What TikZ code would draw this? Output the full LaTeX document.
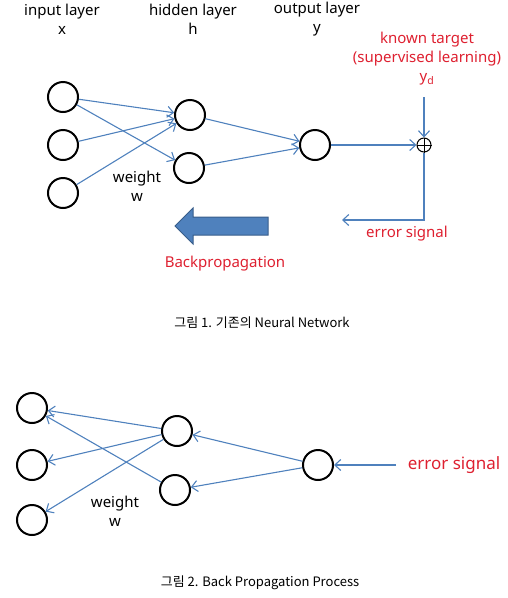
\documentclass[tikz,border=0pt]{standalone}
\usepackage{fontspec}
\setmainfont{Noto Sans}
\newfontfamily\krfont{Noto Sans CJK KR}
\usetikzlibrary{arrows.meta,positioning,shapes.arrows}
\definecolor{wireblue}{RGB}{79,129,189}
\definecolor{darkblue}{RGB}{56,93,138}
\definecolor{signalred}{RGB}{222,32,48}

\begin{document}
\begin{tikzpicture}[
  x=1pt,y=-1pt,
  font=\fontsize{15}{19}\selectfont,
  neuron/.style={circle,draw,line width=2pt,minimum size=30pt,inner sep=0},
  wire/.style={-{Straight Barb[length=6pt,width=11pt]},draw=wireblue,line width=1.1pt},
  redtext/.style={text=signalred,align=center},
  caption/.style={font=\krfont\fontsize{13}{15}\selectfont}
]
\useasboundingbox (0,0) rectangle (507,598);

% Figure 1: forward network
\node[align=center] (inlab) at (62,19) {input layer\\x};
\node[align=center] (hidlab) at (193,19) {hidden layer\\h};
\node[align=center] (outlab) at (317,19) {output layer\\y};
\node[redtext] (target) at (427,59) {known target\\(supervised learning)\\y\textsubscript{d}};

\node[neuron] (in1) at (63,97) {};
\node[neuron] (in2) at (63,145) {};
\node[neuron] (in3) at (63,193) {};
\node[neuron] (hid1) at (190,115) {};
\node[neuron] (hid2) at (189,168) {};
\node[neuron] (out) at (315,145) {};
\node[circle,draw,line width=1pt,minimum size=14pt,inner sep=0] (sum) at (424,145) {};
\draw[line width=1pt] (sum.north) -- (sum.south) (sum.west) -- (sum.east);

\node[align=center] (wlab) at (137,186) {weight\\w};

\draw[wire] (in1) -- (hid1);
\draw[wire] (in1) -- (hid2);
\draw[wire] (in2) -- (hid1);
\draw[wire] (in3) -- (hid1);
\draw[wire] (hid1) -- (out);
\draw[wire] (hid2) -- (out);
\draw[wire] (out) -- (sum);

\coordinate (ydtop) at (424,97);
\coordinate (errend) at (342,220);
\draw[wire] (ydtop) -- (sum);
\draw[wire] (sum) -- (sum |- errend) -- (errend);
\node[redtext] (errlab) at (407,234) {error signal};

\node[single arrow,shape border rotate=180,fill=wireblue,draw=darkblue,line width=1pt,
  minimum height=93pt,inner xsep=0pt,inner ysep=8.5pt,single arrow head extend=9pt] (bp) at (226,226) {};
\node[redtext] (bplab) at (225,264) {Backpropagation};

\node[caption] (cap1) at (262,323) {그림 1. 기존의 Neural Network};

% Figure 2: back propagation
\node[neuron] (bin1) at (32,408) {};
\node[neuron] (bin2) at (32,465) {};
\node[neuron] (bin3) at (32,520) {};
\node[neuron] (bhid1) at (177,431) {};
\node[neuron] (bhid2) at (175,490) {};
\node[neuron] (bout) at (318,465) {};

\node[align=center] (bwlab) at (115,511) {weight\\w};

\draw[wire] (bhid1) -- (bin1);
\draw[wire] (bhid1) -- (bin2);
\draw[wire] (bhid1) -- (bin3);
\draw[wire] (bhid2) -- (bin1);
\draw[wire] (bout) -- (bhid1);
\draw[wire] (bout) -- (bhid2);

\node[redtext,font=\fontsize{17}{20}\selectfont] (berrlab) at (454,465) {error signal};
\coordinate (errstart) at (396,465);
\draw[wire] (errstart) -- (bout);

\node[caption] (cap2) at (260,583) {그림 2. Back Propagation Process};
\end{tikzpicture}
\end{document}
